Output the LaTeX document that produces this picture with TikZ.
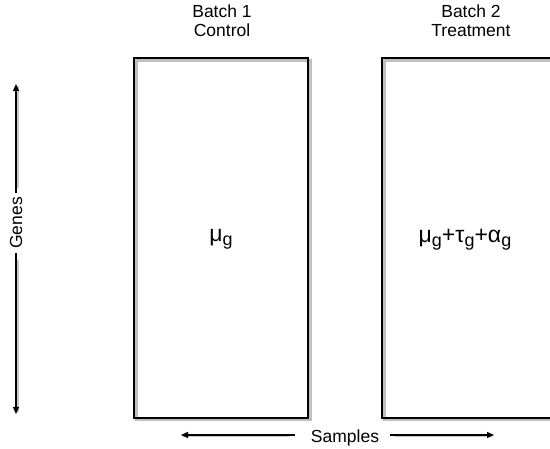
\documentclass[tikz,border=0pt]{standalone}
\usepackage{fontspec}
\setmainfont{Liberation Sans}
\usetikzlibrary{arrows.meta}
\begin{document}
\begin{tikzpicture}[x=1pt,y=-1pt,
  lbl/.style={font=\fontsize{17.5}{19}\selectfont, inner sep=0pt, align=center},
  mathlbl/.style={font=\fontsize{23}{26}\selectfont, inner sep=0pt},
  panel/.style={draw=black, line width=2.2pt},
  panelshadow/.style={draw=black!25, line width=3pt},
  axis/.style={draw=black, line width=1.4pt, -{Triangle[length=7pt,width=6pt]}},
  axisshadow/.style={draw=black!22, line width=2pt}
]
\useasboundingbox (0,0) rectangle (550,449);
\clip (0,0) rectangle (550,449);
\fill[white] (0,0) rectangle (550,449);

% sample panels with soft shadows
\draw[panelshadow] (136.5,60.5) rectangle (310.5,420);
\draw[panelshadow] (384.5,60.5) rectangle (560,420);
\node[panel, minimum width=174pt, minimum height=360pt, inner sep=0pt] (b1) at (221,238) {};
\node[panel, minimum width=176pt, minimum height=360pt, inner sep=0pt] (b2) at (470,238) {};

% headers
\node[lbl] (h1) at (222,21) {Batch 1\\Control};
\node[lbl] (h2) at (471,21) {Batch 2\\Treatment};

% model terms
\newcommand{\sbg}{\raisebox{-0.35ex}{\fontsize{18}{20}\selectfont g}}
\node[mathlbl] (m1) at (221,239) {μ\sbg};
\node[mathlbl] (m2) at (465,240) {μ\sbg+τ\sbg+α\sbg};

% genes axis
\node[lbl, rotate=90] (genes) at (16,223) {Genes};
\coordinate (gtop) at (16,84);
\coordinate (gbot) at (16,414);
\draw[axisshadow] (17.5,188) -- (17.5,86);
\draw[axisshadow] (17.5,260) -- (17.5,412);
\draw[axis] (genes.east) ++(0,-4) -- (gtop);
\draw[axis] (genes.west) ++(0,4) -- (gbot);

% samples axis
\node[lbl] (samples) at (345,438) {Samples};
\coordinate (sleft) at (181,435);
\coordinate (sright) at (494,435);
\draw[axisshadow] (290,436.5) -- (183,436.5);
\draw[axisshadow] (394,436.5) -- (492,436.5);
\draw[axis] (samples.west) ++(-16,-3) -- (sleft);
\draw[axis] (samples.east) ++(11,-3) -- (sright);
\end{tikzpicture}
\end{document}
